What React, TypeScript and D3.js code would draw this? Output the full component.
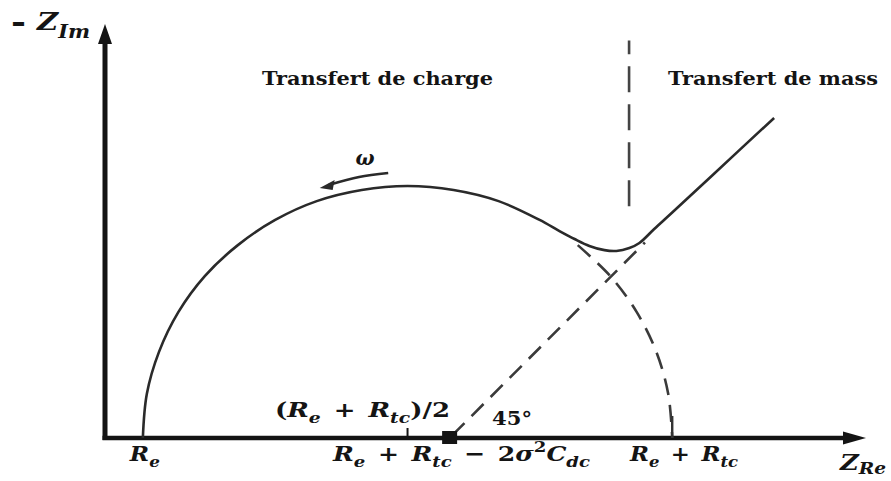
import React from 'react';
import * as d3 from 'd3';

// Schematic Nyquist plot (Randles circuit), values in arbitrary ohm units
const Re = 1.43;
const Rtc = 20;
const warburgFoot = 13.02; // Re + Rtc - 2σ²Cdc
const boundaryRe = 19.8;   // charge / mass transfer boundary

// solid impedance curve
const curveRe = [1.43, 1.58, 2.04, 2.77, 3.77, 5.02, 6.43, 8.0, 9.7, 11.43, 13.17, 14.87, 16.42, 17.17, 17.74, 18.3, 18.87, 19.32, 19.81, 20.19, 20.75, 21.43, 22.94, 25.28];
const curveIm = [0, 1.66, 3.25, 4.75, 6.11, 7.28, 8.23, 8.94, 9.36, 9.51, 9.36, 8.94, 8.23, 7.81, 7.51, 7.25, 7.09, 7.06, 7.17, 7.36, 7.89, 8.51, 9.91, 12.08];

// dashed end of the semicircle
const arcRe = [17.86, 19.09, 20.09, 20.83, 21.28, 21.43];
const arcIm = [7.28, 6.11, 4.75, 3.25, 1.66, 0];

// dashed 45° Warburg extrapolation
const lineRe = [warburgFoot, 20.4];
const lineIm = [0, 7.38];

const boundaryIm = [8.75, 15.0];

const W = 891;
const H = 481;
const ink = '#141414';
const mathFont = '"DejaVu Serif", "Liberation Serif", serif';

type Part = { t: string; sub?: boolean; sup?: boolean; up?: boolean };

const MathLabel = ({ x, y, size, parts, len, subShift = 0.3 }: { x: number; y: number; size: number; parts: Part[]; len?: number; subShift?: number }) => {
  let shift = 0;
  return (
    <text x={x} y={y} fontFamily={mathFont} fontWeight="bold" fill={ink} style={{ whiteSpace: 'pre' }}
      textLength={len} lengthAdjust={len ? 'spacingAndGlyphs' : undefined}>
      {parts.map((p, i) => {
        const target = p.sub ? size * subShift : p.sup ? -size * 0.42 : 0;
        const dy = target - shift;
        shift = target;
        return (
          <tspan key={i} dy={dy} fontSize={p.sub || p.sup ? size * 0.72 : size} fontStyle={p.up ? 'normal' : 'italic'}>
            {p.t}
          </tspan>
        );
      })}
    </text>
  );
};

const App = () => {
  const x = d3.scaleLinear().domain([0, 28.6]).range([105, 862]);
  const y = d3.scaleLinear().domain([0, 15.55]).range([438, 26]);

  const line = d3.line<[number, number]>().x(d => x(d[0])).y(d => y(d[1]));
  const smooth = d3.line<[number, number]>().x(d => x(d[0])).y(d => y(d[1])).curve(d3.curveCatmullRom.alpha(0.5));

  const solid = curveRe.map((v, i) => [v, curveIm[i]] as [number, number]);
  const arc = arcRe.map((v, i) => [v, arcIm[i]] as [number, number]);
  const warburg = lineRe.map((v, i) => [v, lineIm[i]] as [number, number]);
  const boundary = boundaryIm.map(v => [boundaryRe, v] as [number, number]);

  const x0 = x(0);
  const y0 = y(0);
  const mid = (Re + (Re + Rtc)) / 2;

  // omega arrow along the top of the arc
  const om = [[10.7, 10.0], [9.6, 9.85], [8.45, 9.55]] as [number, number][];

  const sp = '\u2002';

  return (
    <svg width={W} height={H} style={{ position: 'absolute', left: 0, top: 0, background: '#fff' }}>
      {/* axes */}
      <line x1={x0} y1={y0 + 2} x2={x0} y2={42} stroke={ink} strokeWidth={5} />
      <path d={`M${x0 - 7},${44} L${x0},${24} L${x0 + 7},${44} Z`} fill={ink} />
      <line x1={x0 - 2.5} y1={y0} x2={845} y2={y0} stroke={ink} strokeWidth={4.5} />
      <path d={`M${843},${y0 - 6.5} L${866},${y0} L${843},${y0 + 6.5} Z`} fill={ink} />

      {/* dashed constructions */}
      <path d={smooth(arc) || ''} fill="none" stroke="#3a3a3a" strokeWidth={2.6} strokeDasharray="17 10" />
      <path d={line(warburg) || ''} fill="none" stroke="#3a3a3a" strokeWidth={2.6} strokeDasharray="17 10" strokeDashoffset={-4} />
      <path d={line(boundary) || ''} fill="none" stroke="#444" strokeWidth={2.6} strokeDasharray="26 12" />

      {/* impedance curve */}
      <path d={smooth(solid) || ''} fill="none" stroke="#2a2a2a" strokeWidth={2.6} />

      {/* ticks and marker */}
      <line x1={x(mid)} y1={y0} x2={x(mid)} y2={y0 - 10} stroke={ink} strokeWidth={2} />
      <line x1={x(Re + Rtc)} y1={y0} x2={x(Re + Rtc)} y2={y0 - 22} stroke="#333" strokeWidth={2.4} />
      <rect x={x(warburgFoot) - 7.5} y={y0 - 7} width={15} height={13} fill={ink} />

      {/* omega */}
      <path d={smooth(om) || ''} fill="none" stroke="#2a2a2a" strokeWidth={2.6} />
      <path d={`M${x(8.45) - 9},${y(9.55) + 3} L${x(8.45) + 6},${y(9.55) - 5} L${x(8.45) + 4},${y(9.55) + 5} Z`} fill="#2a2a2a" />
      <text x={365} y={165} textAnchor="middle" fontFamily={mathFont} fontStyle="italic" fontWeight="bold" fontSize={20} fill={ink}>ω</text>

      {/* region titles */}
      <text x={262} y={85} fontFamily={mathFont} fontWeight="bold" fontSize={19} fill={ink} textLength={231} lengthAdjust="spacingAndGlyphs">Transfert de charge</text>
      <text x={668} y={85} fontFamily={mathFont} fontWeight="bold" fontSize={19} fill={ink} textLength={210} lengthAdjust="spacingAndGlyphs">Transfert de mass</text>

      {/* axis titles */}
      <text x={11} y={32} fontFamily={mathFont} fontWeight="bold" fontSize={30} fill={ink} textLength={15} lengthAdjust="spacingAndGlyphs">-</text>
      <MathLabel x={37} y={30} size={25} len={53} parts={[{ t: 'Z' }, { t: 'Im', sub: true }]} />
      <MathLabel x={840} y={470} size={23} len={46} subShift={0.18} parts={[{ t: 'Z' }, { t: 'Re', sub: true }]} />

      {/* x labels */}
      <MathLabel x={x(Re) - 13} y={461} size={21} len={30} parts={[{ t: 'R' }, { t: 'e', sub: true }]} />
      <MathLabel x={333} y={461} size={21} len={257} parts={[{ t: 'R' }, { t: 'e', sub: true }, { t: `${sp}+${sp}`, up: true }, { t: 'R' }, { t: 'tc', sub: true }, { t: `${sp}−${sp}2`, up: true }, { t: 'σ' }, { t: '2', sup: true, up: true }, { t: 'C' }, { t: 'dc', sub: true }]} />
      <MathLabel x={630} y={461} size={21} len={108} parts={[{ t: 'R' }, { t: 'e', sub: true }, { t: `${sp}+${sp}`, up: true }, { t: 'R' }, { t: 'tc', sub: true }]} />
      <MathLabel x={275} y={417} size={21} len={175} parts={[{ t: '(', up: true }, { t: 'R' }, { t: 'e', sub: true }, { t: `${sp}+${sp}`, up: true }, { t: 'R' }, { t: 'tc', sub: true }, { t: ')/2', up: true }]} />
      <text x={492} y={425} fontFamily={mathFont} fontWeight="bold" fontSize={18} fill={ink} textLength={40} lengthAdjust="spacingAndGlyphs">45°</text>
    </svg>
  );
};

export default App;
